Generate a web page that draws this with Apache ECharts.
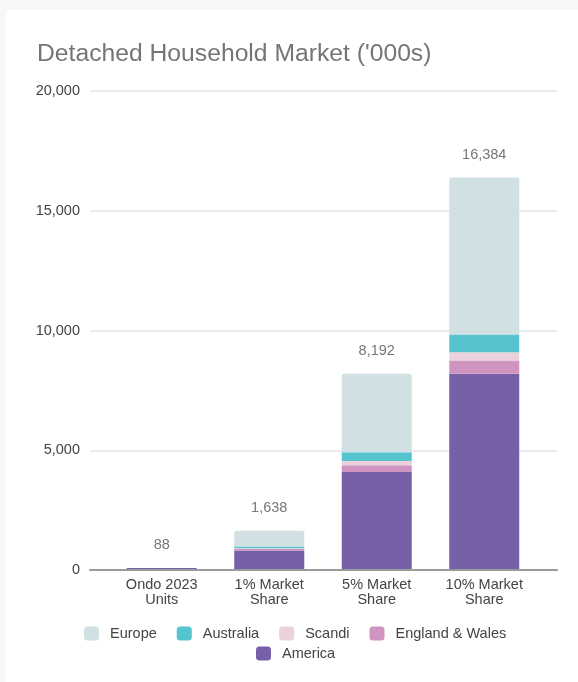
<!DOCTYPE html>
<html>
<head>
<meta charset="utf-8">
<title>Detached Household Market</title>
<script src="https://cdn.jsdelivr.net/npm/echarts@6/dist/echarts.min.js"></script>
<style>
  html, body { margin: 0; padding: 0; background: #f7f7f7; }
  #chart { width: 578px; height: 682px; }
</style>
</head>
<body>
<div id="chart"></div>
<script>
// Categories along the x axis
const categories = ['Ondo 2023\nUnits', '1% Market\nShare', '5% Market\nShare', '10% Market\nShare'];

// Stacked segments ('000s), bottom to top
const america      = [88, 819, 4096, 8192];
const englandWales = [0, 56, 279, 558];
const scandi       = [0, 35, 173, 346];
const australia    = [0, 74, 368, 737];
const europe       = [0, 654, 3276, 6551];

// Totals shown above each stack
const totals = [88, 1638, 8192, 16384];

// Value axis ticks
const yTicks = [0, 5000, 10000, 15000, 20000];

const FONT = '"Liberation Sans", Arial, sans-serif';
const colors = {
  europe: '#d0e0e3',
  australia: '#55c4cf',
  scandi: '#ead1dc',
  englandWales: '#d094c0',
  america: '#7760a8'
};

const fmt = v => v.toLocaleString('en-US');

const chart = echarts.init(document.getElementById('chart'), null, { renderer: 'canvas' });

const barBase = {
  type: 'bar',
  stack: 'total',
  xAxisIndex: 1,
  yAxisIndex: 1,
  barWidth: 70
};

const legendText = { fontFamily: FONT, fontSize: 14.5, color: '#444', padding: [0, 0, 0, 6] };

chart.setOption({
  backgroundColor: '#f7f7f7',
  animation: false,
  textStyle: { fontFamily: FONT },
  graphic: [{
    type: 'rect',
    z: -10,
    shape: { x: 6, y: 10, width: 572, height: 672 },
    style: { fill: '#ffffff' },
    silent: true
  }],
  title: {
    text: "Detached Household Market ('000s)",
    left: 32,
    top: 37,
    textStyle: { fontFamily: FONT, fontSize: 24.7, fontWeight: 'normal', color: '#757575' }
  },
  legend: [{
    data: ['Europe', 'Australia', 'Scandi', 'England & Wales'],
    left: 79,
    top: 621,
    itemWidth: 15,
    itemHeight: 14,
    itemGap: 20,
    icon: 'roundRect',
    textStyle: legendText
  }, {
    data: ['America'],
    left: 251,
    top: 641,
    itemWidth: 15,
    itemHeight: 14,
    icon: 'roundRect',
    textStyle: legendText
  }],
  grid: [
    // full-width grid carrying the value axis, gridlines and baseline
    { left: 90, right: 21, top: 91, bottom: 112 },
    // inset grid holding the bars and category labels
    { left: 108, right: 40, top: 91, bottom: 112 }
  ],
  xAxis: [{
    type: 'category',
    gridIndex: 0,
    data: categories,
    axisLine: { show: true, lineStyle: { color: '#9a9a9a', width: 2 } },
    axisTick: { show: false },
    axisLabel: { show: false },
    z: 5
  }, {
    type: 'category',
    gridIndex: 1,
    data: categories,
    axisLine: { show: false },
    axisTick: { show: false },
    axisLabel: {
      margin: 7,
      fontFamily: FONT,
      fontSize: 14.5,
      lineHeight: 15,
      color: '#444',
      align: 'center'
    }
  }],
  yAxis: [{
    type: 'value',
    gridIndex: 0,
    min: yTicks[0],
    max: yTicks[yTicks.length - 1],
    interval: yTicks[1] - yTicks[0],
    axisLine: { show: false },
    axisTick: { show: false },
    axisLabel: {
      margin: 10,
      fontFamily: FONT,
      fontSize: 14.5,
      color: '#444',
      formatter: v => fmt(v)
    },
    splitLine: { lineStyle: { color: '#e4e4e4', width: 1.5 } }
  }, {
    type: 'value',
    gridIndex: 1,
    min: yTicks[0],
    max: yTicks[yTicks.length - 1],
    interval: yTicks[1] - yTicks[0],
    show: false,
    splitLine: { show: false }
  }],
  series: [
    Object.assign({}, barBase, {
      name: 'America', data: america,
      itemStyle: { color: colors.america }
    }),
    Object.assign({}, barBase, {
      name: 'England & Wales', data: englandWales,
      itemStyle: { color: colors.englandWales }
    }),
    Object.assign({}, barBase, {
      name: 'Scandi', data: scandi,
      itemStyle: { color: colors.scandi }
    }),
    Object.assign({}, barBase, {
      name: 'Australia', data: australia,
      itemStyle: { color: colors.australia }
    }),
    Object.assign({}, barBase, {
      name: 'Europe', data: europe,
      itemStyle: { color: colors.europe, borderRadius: [2, 2, 0, 0] },
      label: {
        show: true,
        position: 'top',
        distance: 15,
        fontFamily: FONT,
        fontSize: 14.5,
        color: '#777',
        formatter: p => fmt(totals[p.dataIndex])
      }
    })
  ]
});
</script>
</body>
</html>
